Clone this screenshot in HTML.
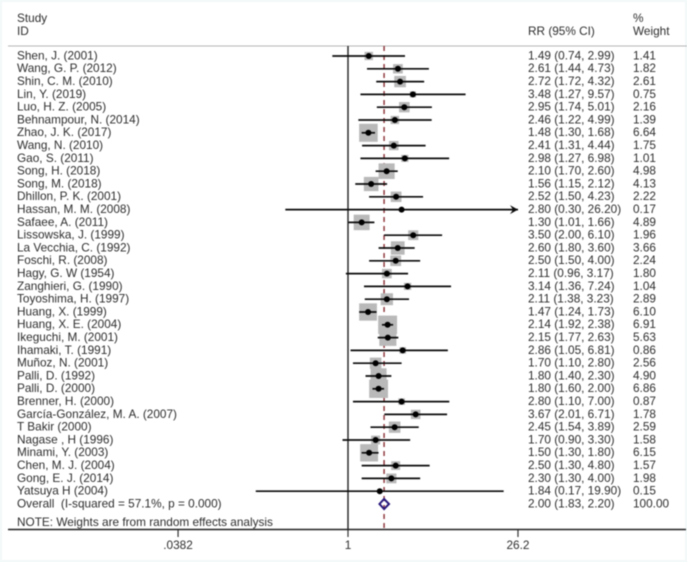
<!DOCTYPE html>
<html>
<head>
<meta charset="utf-8">
<title>Forest plot</title>
<style>
html,body{margin:0;padding:0;background:#f3f8f8;}
#chart{display:block;width:687px;height:562px;filter:blur(0.4px);}
text{font-family:"Liberation Sans",sans-serif;font-size:11.8px;fill:#2e2e2e;}
</style>
</head>
<body>
<svg id="chart" xmlns="http://www.w3.org/2000/svg" width="687" height="562" viewBox="0 0 687 562">
<rect x="2" y="2" width="683" height="558" fill="#ffffff"/>
<text x="17" y="22">Study</text>
<text x="17" y="35">ID</text>
<text x="528" y="35">RR (95% CI)</text>
<text x="633" y="22">%</text>
<text x="633" y="35">Weight</text>
<line x1="8" y1="46" x2="687" y2="46" stroke="#b5b5b5" stroke-width="1"/>
<g id="marks"></g>
<text x="17" y="526">NOTE: Weights are from random effects analysis</text>
<line x1="8" y1="529.5" x2="686" y2="529.5" stroke="#222" stroke-width="1.4"/>
</svg>
<script>
const studies = ["Shen, J. (2001)","Wang, G. P. (2012)","Shin, C. M. (2010)","Lin, Y. (2019)","Luo, H. Z. (2005)","Behnampour, N. (2014)","Zhao, J. K. (2017)","Wang, N. (2010)","Gao, S. (2011)","Song, H. (2018)","Song, M. (2018)","Dhillon, P. K. (2001)","Hassan, M. M. (2008)","Safaee, A. (2011)","Lissowska, J. (1999)","La Vecchia, C. (1992)","Foschi, R. (2008)","Hagy, G. W (1954)","Zanghieri, G. (1990)","Toyoshima, H. (1997)","Huang, X. (1999)","Huang, X. E. (2004)","Ikeguchi, M. (2001)","Ihamaki, T. (1991)","Muñoz, N. (2001)","Palli, D. (1992)","Palli, D. (2000)","Brenner, H. (2000)","García-González, M. A. (2007)","T Bakir (2000)","Nagase , H (1996)","Minami, Y. (2003)","Chen, M. J. (2004)","Gong, E. J. (2014)","Yatsuya H (2004)"];
const rr = [1.49,2.61,2.72,3.48,2.95,2.46,1.48,2.41,2.98,2.10,1.56,2.52,2.80,1.30,3.50,2.60,2.50,2.11,3.14,2.11,1.47,2.14,2.15,2.86,1.70,1.80,1.80,2.80,3.67,2.45,1.70,1.50,2.50,2.30,1.84];
const lower = [0.74,1.44,1.72,1.27,1.74,1.22,1.30,1.31,1.27,1.70,1.15,1.50,0.30,1.01,2.00,1.80,1.50,0.96,1.36,1.38,1.24,1.92,1.77,1.05,1.10,1.40,1.60,1.10,2.01,1.54,0.90,1.30,1.30,1.30,0.17];
const upper = [2.99,4.73,4.32,9.57,5.01,4.99,1.68,4.44,6.98,2.60,2.12,4.23,26.20,1.66,6.10,3.60,4.00,3.17,7.24,3.23,1.73,2.38,2.63,6.81,2.80,2.30,2.00,7.00,6.71,3.89,3.30,1.80,4.80,4.00,19.90];
const weights = [1.41,1.82,2.61,0.75,2.16,1.39,6.64,1.75,1.01,4.98,4.13,2.22,0.17,4.89,1.96,3.66,2.24,1.80,1.04,2.89,6.10,6.91,5.63,0.86,2.56,4.90,6.86,0.87,1.78,2.59,1.58,6.15,1.57,1.98,0.15];
const overallLabel = ["Overall  (I-squared = 57.1%, p = 0.000)"];
const overallValues = [2.00,1.83,2.20];
const overallWeight = ["100.00"];
const xTicks = [0.0382,1,26.2];
const xTickLabels = [".0382","1","26.2"];

const NS = "http://www.w3.org/2000/svg";
const marks = document.getElementById("marks");
const xPos = v => 348 + 52.05 * Math.log(v);
const yPos = i => 56 + 12.8 * i;
const textDy = 3.4;
const make = (tag, attrs, parent) => {
  const el = document.createElementNS(NS, tag);
  for (const k in attrs) el.setAttribute(k, attrs[k]);
  (parent || marks).appendChild(el);
  return el;
};
const makeText = (str, attrs, parent) => {
  const el = make("text", attrs, parent);
  el.style.whiteSpace = "pre";
  el.textContent = str;
  return el;
};

const pooledLine = make("line", {x1: xPos(overallValues[0]), x2: xPos(overallValues[0]), y1: 46, y2: 530, stroke: "#8a2f35", "stroke-width": 1.4, "stroke-dasharray": "5 4"});



studies.forEach((name, i) => {
  const y = yPos(i);
  const bw = 7.2 * Math.sqrt(weights[i]);
  const bh = 7.0 * Math.sqrt(weights[i]);
  const box = make("rect", {x: xPos(rr[i]) - bw / 2, y: y - bh / 2, width: bw, height: bh, fill: "#b9b9b9"});
  
  
});

const nullLine = make("line", {x1: xPos(1), x2: xPos(1), y1: 46, y2: 530, stroke: "#222", "stroke-width": 1.4});



studies.forEach((name, i) => {
  const y = yPos(i);
  const ci = make("line", {x1: xPos(lower[i]), x2: xPos(upper[i]), y1: y, y2: y, stroke: "#0c0c0c", "stroke-width": 1.7});
  
  
  if (upper[i] >= xTicks[2]) {
    const tip = xPos(upper[i]);
    const head = make("path", {d: "M" + (tip - 8) + " " + (y - 4.5) + "L" + tip + " " + y + "L" + (tip - 8) + " " + (y + 4.5) + "L" + (tip - 5) + " " + y + "Z", fill: "#0c0c0c"});
    
    
  }
  const dot = make("circle", {cx: xPos(rr[i]), cy: y, r: 3, fill: "#000"});
  
  
  const label = makeText(name, {x: 17, y: y + textDy});
  
  
  const rrText = makeText(rr[i].toFixed(2) + " (" + lower[i].toFixed(2) + ", " + upper[i].toFixed(2) + ")", {x: 528, y: y + textDy});
  
  
  const wText = makeText(weights[i].toFixed(2), {x: 633, y: y + textDy});
  
  
});

const oy = yPos(studies.length);
const diamond = make("polygon", {
  points: [xPos(overallValues[1]) + "," + oy, xPos(overallValues[0]) + "," + (oy - 5), xPos(overallValues[2]) + "," + oy, xPos(overallValues[0]) + "," + (oy + 5)].join(" "),
  fill: "none", stroke: "#2a1a7c", "stroke-width": 2
});


const oLabel = makeText(overallLabel[0], {x: 17, y: oy + textDy});


const oRR = makeText(overallValues[0].toFixed(2) + " (" + overallValues[1].toFixed(2) + ", " + overallValues[2].toFixed(2) + ")", {x: 528, y: oy + textDy});


const oW = makeText(overallWeight[0], {x: 633, y: oy + textDy});



xTicks.forEach((t, i) => {
  const tick = make("line", {x1: xPos(t), x2: xPos(t), y1: 530, y2: 537, stroke: "#333", "stroke-width": 1.2});
  
  
  const lab = makeText(xTickLabels[i], {x: xPos(t), y: 549, "text-anchor": "middle"});
  
  
});
</script>
</body>
</html>
